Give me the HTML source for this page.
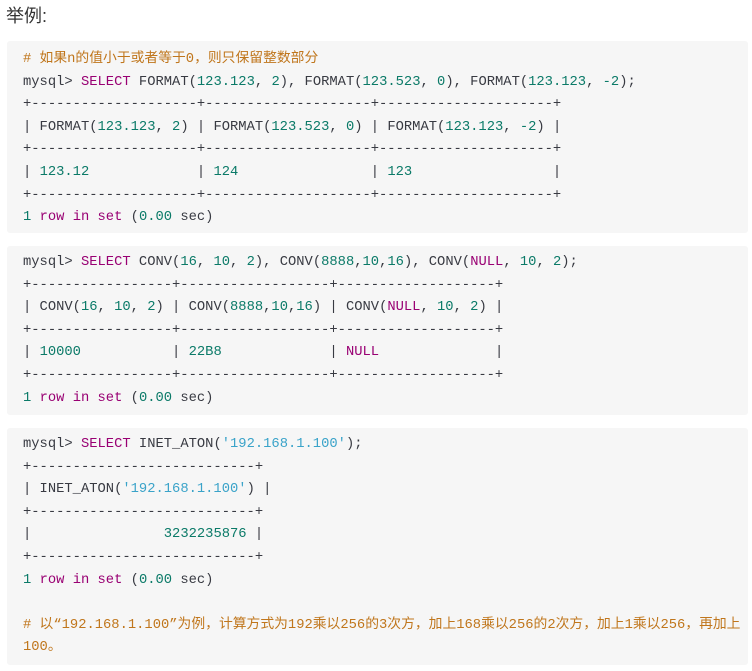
<!DOCTYPE html>
<html><head><meta charset="utf-8"><style>
body{margin:0;background:#fff;width:752px;height:671px;overflow:hidden;font-family:"Liberation Sans","Noto Sans CJK SC",sans-serif;}
h{position:absolute;left:6px;top:2px;font-size:18px;color:#333;}
.b{position:absolute;left:7px;width:741px;background:#f6f6f6;border-radius:3px;}
pre{margin:0;position:absolute;left:16px;font-family:"Liberation Mono","Noto Sans CJK SC",monospace;font-size:13.8px;line-height:22.6px;color:#383a42;white-space:pre;}
.c{color:#c0761c}.k{color:#990073}.n{color:#0b7a68}.s{color:#3aa3c9}
</style></head><body>
<h>举例:</h>
<div class="b" style="top:41px;height:192px"><pre style="top:8px"><span class="c"># 如果n的值小于或者等于0，则只保留整数部分</span>
mysql&gt; <span class="k">SELECT</span> FORMAT(<span class="n">123.123</span>, <span class="n">2</span>), FORMAT(<span class="n">123.523</span>, <span class="n">0</span>), FORMAT(<span class="n">123.123</span>, <span class="n">-2</span>);
+--------------------+--------------------+---------------------+
| FORMAT(<span class="n">123.123</span>, <span class="n">2</span>) | FORMAT(<span class="n">123.523</span>, <span class="n">0</span>) | FORMAT(<span class="n">123.123</span>, <span class="n">-2</span>) |
+--------------------+--------------------+---------------------+
| <span class="n">123.12</span>             | <span class="n">124</span>                | <span class="n">123</span>                 |
+--------------------+--------------------+---------------------+
<span class="n">1</span> <span class="k">row</span> <span class="k">in</span> <span class="k">set</span> (<span class="n">0.00</span> sec)</pre></div>
<div class="b" style="top:246px;height:169px"><pre style="top:6px">mysql&gt; <span class="k">SELECT</span> CONV(<span class="n">16</span>, <span class="n">10</span>, <span class="n">2</span>), CONV(<span class="n">8888</span>,<span class="n">10</span>,<span class="n">16</span>), CONV(<span class="k">NULL</span>, <span class="n">10</span>, <span class="n">2</span>);
+-----------------+------------------+-------------------+
| CONV(<span class="n">16</span>, <span class="n">10</span>, <span class="n">2</span>) | CONV(<span class="n">8888</span>,<span class="n">10</span>,<span class="n">16</span>) | CONV(<span class="k">NULL</span>, <span class="n">10</span>, <span class="n">2</span>) |
+-----------------+------------------+-------------------+
| <span class="n">10000</span>           | <span class="n">22B8</span>             | <span class="k">NULL</span>              |
+-----------------+------------------+-------------------+
<span class="n">1</span> <span class="k">row</span> <span class="k">in</span> <span class="k">set</span> (<span class="n">0.00</span> sec)</pre></div>
<div class="b" style="top:428px;height:237px"><pre style="top:6px">mysql&gt; <span class="k">SELECT</span> INET_ATON(<span class="s">'192.168.1.100'</span>);
+---------------------------+
| INET_ATON(<span class="s">'192.168.1.100'</span>) |
+---------------------------+
|                <span class="n">3232235876</span> |
+---------------------------+
<span class="n">1</span> <span class="k">row</span> <span class="k">in</span> <span class="k">set</span> (<span class="n">0.00</span> sec)

<span class="c"># 以“192.168.1.100”为例，计算方式为192乘以256的3次方，加上168乘以256的2次方，加上1乘以256，再加上</span>
<span class="c">100。</span></pre></div>
</body></html>
